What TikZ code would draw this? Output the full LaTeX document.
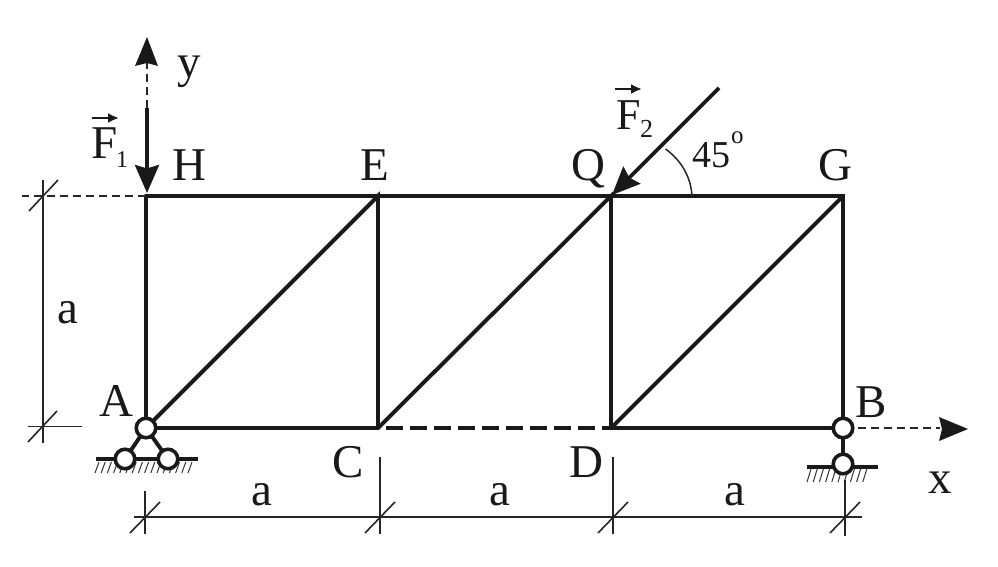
\documentclass[tikz,border=0pt]{standalone}
\usepackage{fontspec}
\setmainfont{Liberation Serif}
\usetikzlibrary{arrows.meta}
\tikzset{
 member/.style={line width=3.9pt,line cap=round,line join=miter,black!90},
 dim/.style={line width=1.6pt,black!85},
 dashline/.style={line width=1.6pt,dash pattern=on 8pt off 5pt,black!85},
 pin/.style={circle,draw=black!90,fill=white,line width=3.6pt,minimum size=19.5pt,inner sep=0pt},
 lab/.style={font=\fontsize{47}{47}\selectfont,inner sep=0pt,text=black!90},
 smalllab/.style={inner sep=0pt,text=black!90},
 bigtip/.style={-{Stealth[length=28pt,width=24pt,inset=3.5pt]}},
 force/.style={line width=3.6pt,bigtip,black!90},
 vecarrow/.style={line width=2.3pt,-{Latex[length=11pt,width=10pt]},black!90},
 hatchline/.style={line width=1pt,black!80},
 ground/.style={line width=3.6pt,black!90}
}
\begin{document}
\begin{tikzpicture}[x=1pt,y=-1pt]
\useasboundingbox (0,0) rectangle (998,567);
\coordinate (H) at (146,196);
\coordinate (E) at (378,196);
\coordinate (Q) at (611,196);
\coordinate (G) at (843,196);
\coordinate (C) at (378,428);
\coordinate (D) at (611,428);
\coordinate (A0) at (146,428);
\coordinate (B0) at (843,428);
\coordinate (F2s) at (719,88);
\coordinate (Ytip) at (147,37);
\coordinate (F1s) at (147,108);
\coordinate (F1e) at (147,193);
\coordinate (F2e) at (612,195);
\coordinate (Xtip) at (968,429);
% members
\draw[member] (H)--(G)--(B0);
\draw[member] (A0)--(H);
\draw[member] (A0)--(C);
\draw[member] (D)--(B0);
\draw[member] (A0)--(E)--(C);
\draw[member] (C)--(Q)--(D);
\draw[member] (D)--(G);
\draw[line width=3.6pt,dash pattern=on 17pt off 7pt,black!90] (386,428)--(D);
% hatching
\foreach \x in {95,101.2,...,193}{\draw[hatchline] (\x,473)--(\x+4,462);}
\foreach \x in {807,813.2,...,866}{\draw[hatchline] (\x,482)--(\x+4,469);}
\draw[ground] (96,459)--(198,459);
\draw[ground] (807,467)--(878,467);
\draw[member] (A0)--(125,459);
\draw[member] (A0)--(168,459);
\draw[member] (B0)--(843,464);
\node[pin] (A) at (A0) {};
\node[pin] (A1) at (125,459) {};
\node[pin] (A2) at (168,459) {};
\node[pin] (B1) at (843,464) {};
\node[pin] (B) at (B0) {};
% axes
\draw[dashline] (F1s)--(147,62);
\draw[fill=black!90,draw=none] (Ytip)--(158,66)--(147,63)--(135,66)--cycle;
\draw[dashline] (858,428)--(940,428);
\draw[fill=black!90,draw=none] (Xtip)--(939,417)--(942,429)--(939,441)--cycle;
% forces
\draw[force] (F1s)--(F1e);
\draw[force] (F2s)--(F2e);
% angle
\draw[line width=1.5pt,black!85] (665.5,149) .. controls (681,160) and (691,177) .. (692,196);
% dim lines
\draw[dashline] (146,196)--(22,196);
\draw[dim] (43,180)--(43,443);
\draw[dim] (28,426.5)--(82,426.5);
\draw[dim] (29,211)--(58,180);
\draw[dim] (28,442)--(57,411);
\draw[dim] (134,517)--(862,517);
\draw[dim] (145,491)--(145,534);
\draw[dim] (380,457)--(380,534);
\draw[dim] (613,457)--(613,534);
\draw[dim] (845,480)--(845,536);
\foreach \x in {145,380,613,845}{\draw[dim] (\x-15,533)--(\x+15,502);}
% labels
\node[lab,anchor=base] (ly) at (189,78) {y};
\node[lab,anchor=base] (lH) at (189,180) {H};
\node[lab,anchor=base] (lE) at (375,180) {E};
\node[lab,anchor=base] (lQ) at (588,180) {Q};
\node[lab,anchor=base] (lG) at (835,180) {G};
\node[lab,anchor=base] (lA) at (116,416) {A};
\node[lab,anchor=base] (lB) at (871,417) {B};
\node[lab,anchor=base] (lC) at (348,477) {C};
\node[lab,anchor=base] (lD) at (586,477) {D};
\node[lab,anchor=base] (lx) at (940,493) {x};
\node[lab,anchor=base] (la1) at (68,323) {a};
\node[lab,anchor=base] (la2) at (262,505) {a};
\node[lab,anchor=base] (la3) at (500,505) {a};
\node[lab,anchor=base] (la4) at (735,505) {a};
\node[lab,anchor=base west] (lF1) at (91,158) {F};
\node[smalllab,anchor=base west,font=\fontsize{24}{24}\selectfont] (s1) at (116,167) {1};
\draw[vecarrow] (92,118)--(119,118);
\node[smalllab,anchor=base west,font=\fontsize{44}{44}\selectfont] (lF2) at (616,129) {F};
\node[smalllab,anchor=base west,font=\fontsize{26}{26}\selectfont] (s2) at (640,137) {2};
\draw[vecarrow] (615,89)--(642,89);
\node[smalllab,anchor=base west,font=\fontsize{38}{38}\selectfont] (l45) at (692,167) {45};
\node[smalllab,anchor=base west,font=\fontsize{25}{25}\selectfont] (ldeg) at (731,143) {o};
\end{tikzpicture}
\end{document}
